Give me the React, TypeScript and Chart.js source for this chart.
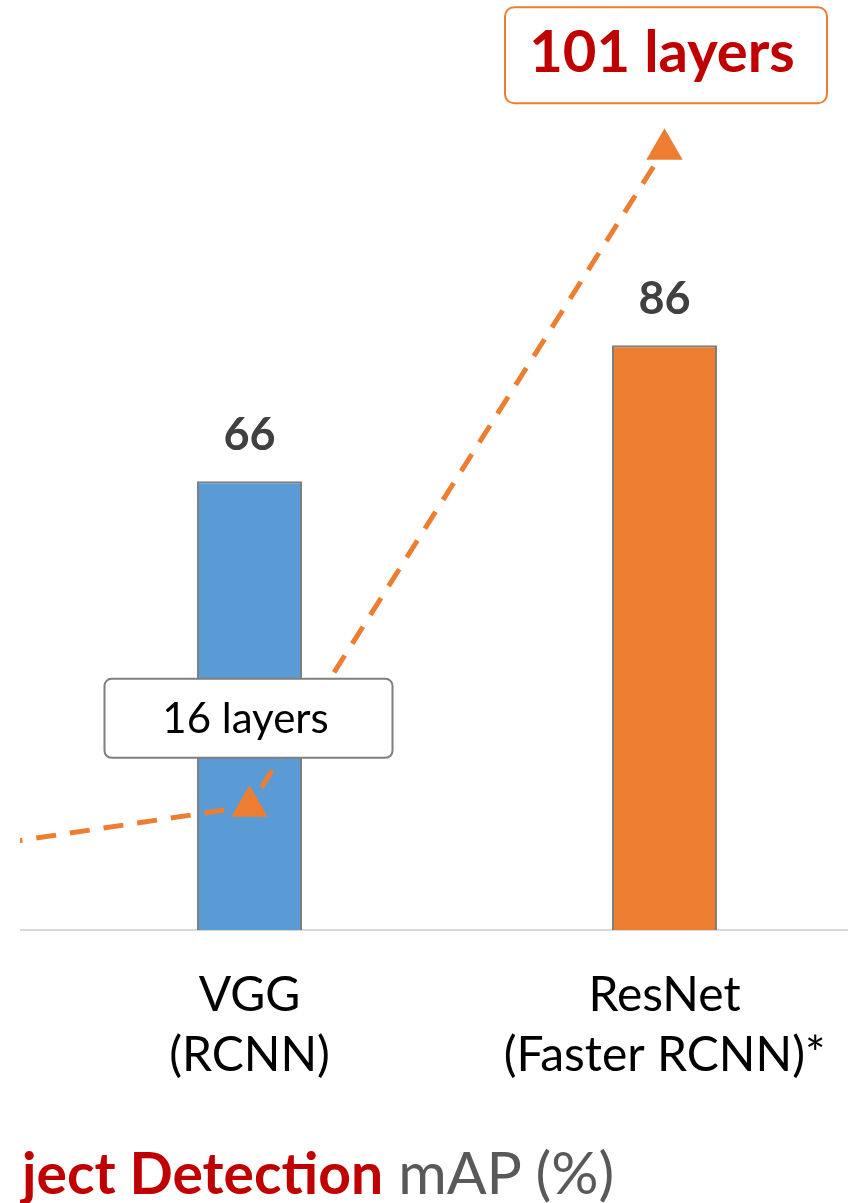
import React, { useEffect, useRef } from "react";
import { Chart, registerables } from "chart.js";

Chart.register(...registerables);

const categories: string[][] = [
  ["AlexNet", "(RCNN)"],
  ["VGG", "(RCNN)"],
  ["ResNet", "(Faster RCNN)*"],
];
const mapValues = [58, 66, 86];
const layerValues = [8, 16, 101];
const layerLabels = ["8 layers", "16 layers", "101 layers"];
const barColors = ["#A5A5A5", "#5B9BD5", "#ED7D31"];

const FONT = "Lato, 'Open Sans', sans-serif";

const labelPlugin = {
  id: "labelPlugin",
  afterDatasetsDraw(chart: any) {
    const ctx = chart.ctx as CanvasRenderingContext2D;
    const barMeta = chart.getDatasetMeta(0);
    ctx.save();
    // bar value labels
    barMeta.data.forEach((bar: any, i: number) => {
      ctx.font = `bold 45px ${FONT}`;
      ctx.fillStyle = "#404040";
      ctx.textAlign = "center";
      ctx.textBaseline = "alphabetic";
      ctx.fillText(String(mapValues[i]), bar.x, bar.y - 31);
    });
    // layer callout boxes
    const lineMeta = chart.getDatasetMeta(1);
    const styles: any = {
      1: { w: 288, h: 79, dx: -1, dy: -88, tx: -3, ty: 1, border: "#7F7F7F", font: `42px ${FONT}`, color: "#000000", r: 7 },
      2: { w: 322, h: 96, dx: 1.5, dy: -94, tx: -4, ty: -2, border: "#ED7D31", font: `bold 58px ${FONT}`, color: "#C00000", r: 9 },
    };
    lineMeta.data.forEach((pt: any, i: number) => {
      const s = styles[i];
      if (!s) return;
      const cx = pt.x + s.dx;
      const cy = pt.y + s.dy;
      ctx.beginPath();
      (ctx as any).roundRect(cx - s.w / 2, cy - s.h / 2, s.w, s.h, s.r);
      ctx.fillStyle = "#ffffff";
      ctx.fill();
      ctx.lineWidth = 2;
      ctx.strokeStyle = s.border;
      ctx.stroke();
      ctx.font = s.font;
      ctx.fillStyle = s.color;
      ctx.textAlign = "center";
      ctx.textBaseline = "middle";
      ctx.fillText(layerLabels[i], cx + s.tx, cy + s.ty);
    });
    ctx.restore();
  },
};

export default function App() {
  const canvasRef = useRef<HTMLCanvasElement | null>(null);

  useEffect(() => {
    if (!canvasRef.current) return;
    const chart = new Chart(canvasRef.current, {
      type: "bar",
      data: {
        labels: categories,
        datasets: [
          {
            type: "bar",
            data: mapValues,
            backgroundColor: barColors,
            borderColor: "#7F7F7F",
            borderWidth: 2,
            barPercentage: 0.253,
            categoryPercentage: 1,
            yAxisID: "y",
            order: 1,
          },
          {
            type: "line",
            data: layerValues,
            yAxisID: "y2",
            borderColor: "#ED7D31",
            borderWidth: 5,
            borderDash: [20, 14],
            borderCapStyle: "butt",
            pointStyle: "triangle",
            pointRadius: 21,
            pointBackgroundColor: "#ED7D31",
            pointBorderWidth: 0,
            tension: 0,
            fill: false,
            clip: false,
            order: 0,
          } as any,
        ],
      },
      options: {
        animation: false,
        responsive: false,
        maintainAspectRatio: false,
        layout: { padding: 0, autoPadding: false },
        plugins: {
          legend: { display: false },
          tooltip: { enabled: false },
          title: { display: false },
        },
        scales: {
          x: {
            grid: { display: false, drawTicks: false },
            border: { display: true, color: "#D9D9D9", width: 2 },
            ticks: {
              color: "#000000",
              font: { family: FONT, size: 48, lineHeight: 1.25 },
              padding: 36,
              autoSkip: false,
              maxRotation: 0,
              minRotation: 0,
            },
            afterFit: (scale: any) => {
              scale.height = 200;
            },
          },
          y: { display: false, min: 0, max: 930 / 6.8 },
          y2: { display: false, min: 0, max: 930 / 7.73, position: "right" },
        },
      } as any,
      plugins: [labelPlugin],
    });
    return () => chart.destroy();
  }, []);

  return (
    <div
      style={{
        position: "absolute",
        left: 0,
        top: 0,
        width: 848,
        height: 1203,
        overflow: "hidden",
        background: "#ffffff",
      }}
    >
      <div
        style={{
          position: "absolute",
          left: 20,
          top: 0,
          width: 828,
          height: 1203,
          overflow: "hidden",
        }}
      >
        <canvas
          ref={canvasRef}
          width={1245}
          height={1130}
          style={{ position: "absolute", left: -393, top: 0, width: 1245, height: 1130 }}
        />
      </div>
      <div
        style={{
          position: "absolute",
          left: 22,
          top: 1142,
          fontFamily: FONT,
          fontSize: 57,
          lineHeight: 1,
          whiteSpace: "nowrap",
        }}
      >
        <span style={{ color: "#C00000", fontWeight: "bold" }}>ject Detection</span>
        <span style={{ color: "#595959", fontSize: 59 }}> mAP (%)</span>
      </div>
    </div>
  );
}
